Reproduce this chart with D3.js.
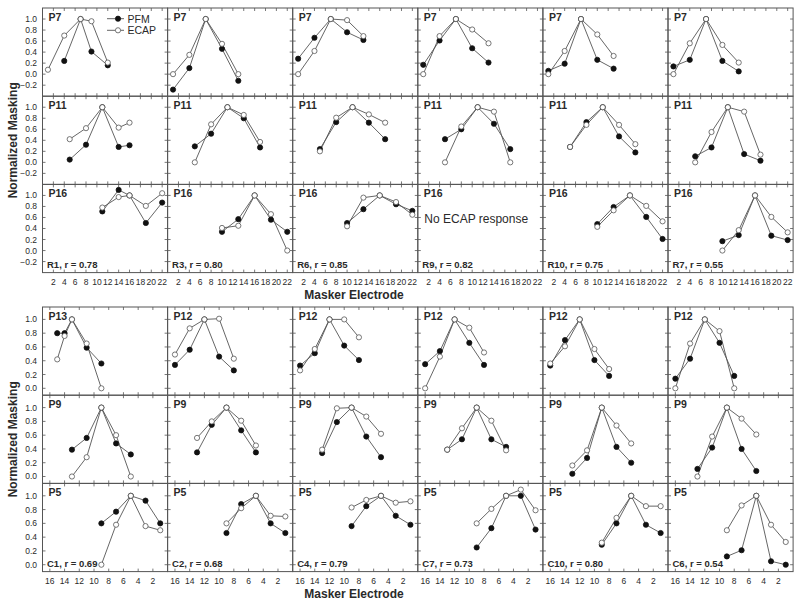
<!doctype html>
<html lang="en">
<head>
<meta charset="UTF-8">
<title>Normalized masking</title>
<script src="https://cdn.jsdelivr.net/npm/d3@7"></script>
<style>
  body { margin: 0; background: #fff; }
  svg { font-family: "Liberation Sans", Arial, sans-serif; }
</style>
</head>
<body>
<div id="container"></div>
<script>
  // ---- data: [electrode, normalized masking] ----
  // top block (R subjects), rows P7, P11, P16, one entry per column
  var topCodes = ["R1", "R3", "R6", "R9", "R10", "R7"];
  var topR = [0.78, 0.80, 0.85, 0.82, 0.75, 0.55];
  var topNames = [
    ["P7", "P7", "P7", "P7", "P7", "P7"],
    ["P11", "P11", "P11", "P11", "P11", "P11"],
    ["P16", "P16", "P16", "P16", "P16", "P16"]
  ];
  var topXTicks = [2, 4, 6, 8, 10, 12, 14, 16, 18, 20, 22];
  var topYTicks = [-0.2, 0, 0.2, 0.4, 0.6, 0.8, 1.0];

  var p7Pfm = [
    [[4, .24], [7, 1], [9, .41], [12, .16]],
    [[1, -.28], [4, .11], [7, 1], [10, .46], [13, -.12]],
    [[1, .28], [4, .66], [7, 1], [10, .76], [13, .62]],
    [[1, .17], [4, .61], [7, 1], [10, .47], [13, .21]],
    [[1, .06], [4, .19], [7, 1], [10, .26], [13, .10]],
    [[1, .14], [4, .26], [7, 1], [10, .24], [13, .05]]
  ];
  var p7Ecap = [
    [[1, .08], [4, .70], [7, 1], [9, .96], [12, .21]],
    [[1, 0], [4, .35], [7, 1], [10, .55], [13, 0]],
    [[1, 0], [4, .42], [7, 1], [10, .98], [13, .69]],
    [[1, 0], [4, .69], [7, 1], [10, .81], [13, .56]],
    [[1, 0], [4, .42], [7, 1], [10, .72], [13, .33]],
    [[1, 0], [4, .56], [7, 1], [10, .53], [13, .21]]
  ];
  var p11Pfm = [
    [[5, .05], [8, .32], [11, 1], [14, .28], [16, .31]],
    [[5, .29], [8, .52], [11, 1], [14, .80], [17, .27]],
    [[5, .24], [8, .73], [11, 1], [14, .72], [17, .42]],
    [[5, .42], [8, .60], [11, 1], [14, .70], [17, .24]],
    [[5, .28], [8, .73], [11, 1], [14, .47], [17, .18]],
    [[5, .11], [8, .27], [11, 1], [14, .15], [17, .03]]
  ];
  var p11Ecap = [
    [[5, .42], [8, .62], [11, 1], [14, .63], [16, .72]],
    [[5, 0], [8, .69], [11, 1], [14, .86], [17, .37]],
    [[5, .20], [8, .81], [11, 1], [14, .87], [17, .72]],
    [[5, 0], [8, .65], [11, 1], [14, .92], [17, 0]],
    [[5, .28], [8, .68], [11, 1], [14, .68], [17, .33]],
    [[5, 0], [8, .55], [11, 1], [14, .92], [17, .14]]
  ];
  var p16Pfm = [
    [[11, .71], [14, 1.10], [16, 1], [19, .50], [22, .87]],
    [[10, .34], [13, .57], [16, 1], [19, .56], [22, .34]],
    [[10, .50], [13, .75], [16, 1], [19, .84], [22, .72]],
    [],
    [[10, .48], [13, .79], [16, 1], [19, .61], [22, .21]],
    [[10, .17], [13, .28], [16, 1], [19, .27], [22, .19]]
  ];
  var p16Ecap = [
    [[11, .78], [14, .97], [16, 1], [19, .81], [22, 1.04]],
    [[10, .41], [13, .45], [16, 1], [19, .66], [22, 0]],
    [[10, .44], [13, .96], [16, 1], [19, .88], [22, .65]],
    [],
    [[10, .43], [13, .73], [16, 1], [19, .81], [22, .53]],
    [[10, 0], [13, .37], [16, 1], [19, .61], [22, .33]]
  ];

  // bottom block (C subjects), rows P12/P13, P9, P5
  var botCodes = ["C1", "C2", "C4", "C7", "C10", "C6"];
  var botR = [0.69, 0.68, 0.79, 0.73, 0.80, 0.54];
  var botNames = [
    ["P13", "P12", "P12", "P12", "P12", "P12"],
    ["P9", "P9", "P9", "P9", "P9", "P9"],
    ["P5", "P5", "P5", "P5", "P5", "P5"]
  ];
  var botXTicks = [16, 14, 12, 10, 8, 6, 4, 2];
  var botYTicks = [0, 0.2, 0.4, 0.6, 0.8, 1.0];

  var p12Pfm = [
    [[15, .80], [14, .80], [13, 1], [11, .59], [9, .36]],
    [[16, .34], [14, .56], [12, 1], [10, .46], [8, .26]],
    [[16, .33], [14, .51], [12, 1], [10, .62], [8, .41]],
    [[16, .35], [14, .54], [12, 1], [10, .66], [8, .34]],
    [[16, .33], [14, .70], [12, 1], [10, .41], [8, .18]],
    [[16, .14], [14, .43], [12, 1], [10, .66], [8, .18]]
  ];
  var p12Ecap = [
    [[15, .42], [14, .76], [13, 1], [11, .65], [9, 0]],
    [[16, .49], [14, .87], [12, 1], [10, 1.01], [8, .43]],
    [[16, .26], [14, .57], [12, 1], [10, 1.0], [8, .74]],
    [[16, 0], [14, .46], [12, 1], [10, .88], [8, .52]],
    [[16, .36], [14, .61], [12, 1], [10, .57], [8, .28]],
    [[16, 0], [14, .65], [12, 1], [10, .83], [8, 0]]
  ];
  var p9Pfm = [
    [[13, .39], [11, .56], [9, 1], [7, .48], [5, .32]],
    [[13, .35], [11, .75], [9, 1], [7, .67], [5, .35]],
    [[13, .34], [11, .79], [9, 1], [7, .58], [5, .28]],
    [[13, .39], [11, .54], [9, 1], [7, .54], [5, .43]],
    [[13, .04], [11, .27], [9, 1], [7, .43], [5, .20]],
    [[13, .11], [11, .42], [9, 1], [7, .40], [5, .08]]
  ];
  var p9Ecap = [
    [[13, 0], [11, .28], [9, 1], [7, .60], [5, 0]],
    [[13, .56], [11, .80], [9, 1], [7, .81], [5, .45]],
    [[13, .39], [11, .99], [9, 1], [7, .87], [5, .62]],
    [[13, .39], [11, .70], [9, 1], [7, .81], [5, .38]],
    [[13, .16], [11, .38], [9, 1], [7, .74], [5, .48]],
    [[13, 0], [11, .58], [9, 1], [7, .84], [5, .61]]
  ];
  var p5Pfm = [
    [[9, .60], [7, .77], [5, 1], [3, .93], [1, .60]],
    [[9, .46], [7, .88], [5, 1], [3, .60], [1, .46]],
    [[9, .56], [7, .85], [5, 1], [3, .71], [1, .58]],
    [[9, .25], [7, .53], [5, 1], [3, 1], [1, .51]],
    [[9, .29], [7, .60], [5, 1], [3, .58], [1, .46]],
    [[9, .12], [7, .21], [5, 1], [3, .05], [1, 0]]
  ];
  var p5Ecap = [
    [[9, 0], [7, .58], [5, 1], [3, .56], [1, .50]],
    [[9, .60], [7, .82], [5, 1], [3, .71], [1, .70]],
    [[9, .83], [7, .94], [5, 1], [3, .90], [1, .92]],
    [[9, .60], [7, .81], [5, 1], [3, 1.09], [1, .79]],
    [[9, .32], [7, .68], [5, 1], [3, .85], [1, .85]],
    [[9, .50], [7, .86], [5, 1], [3, .58], [1, .33]]
  ];

  // ---- layout ----
  var width = 800, height = 605;
  var left = 42.5, colW = 125.1, rowH = 88.2;
  var ink = "#555", textInk = "#2a2a2a";
  var dot = 2.6;

  var groups = [
    { top: 8, xDomain: [0, 23], yDomain: [-0.4, 1.2], xTicks: topXTicks, yTicks: topYTicks,
      names: topNames, codes: topCodes, r: topR,
      pfm: [p7Pfm, p11Pfm, p16Pfm], ecap: [p7Ecap, p11Ecap, p16Ecap] },
    { top: 307, xDomain: [17, 0], yDomain: [-0.1, 1.18], xTicks: botXTicks, yTicks: botYTicks,
      names: botNames, codes: botCodes, r: botR,
      pfm: [p12Pfm, p9Pfm, p5Pfm], ecap: [p12Ecap, p9Ecap, p5Ecap] }
  ];

  var svg = d3.select("#container").append("svg")
    .attr("width", width).attr("height", height);

  groups.forEach(function (grp, gi) {
    var x = d3.scaleLinear().domain(grp.xDomain).range([0, colW]);
    var y = d3.scaleLinear().domain(grp.yDomain).range([rowH, 0]);
    var line = d3.line().x(function (d) { return x(d[0]); }).y(function (d) { return y(d[1]); });

    for (var r = 0; r < 3; r++) {
      for (var c = 0; c < 6; c++) {
        var g = svg.append("g")
          .attr("transform", "translate(" + (left + c * colW) + "," + (grp.top + r * rowH) + ")");

        g.append("rect").attr("width", colW).attr("height", rowH)
          .attr("fill", "none").attr("stroke", ink).attr("stroke-width", 1);

        // inward ticks on all four sides
        var tk = g.append("g").attr("stroke", ink).attr("stroke-width", 0.8);
        grp.yTicks.forEach(function (t) {
          tk.append("line").attr("x1", 0).attr("x2", 3).attr("y1", y(t)).attr("y2", y(t));
          tk.append("line").attr("x1", colW).attr("x2", colW - 3).attr("y1", y(t)).attr("y2", y(t));
        });
        grp.xTicks.forEach(function (t) {
          tk.append("line").attr("x1", x(t)).attr("x2", x(t)).attr("y1", 0).attr("y2", 3);
          tk.append("line").attr("x1", x(t)).attr("x2", x(t)).attr("y1", rowH).attr("y2", rowH - 3);
        });

        if (c === 0) {
          g.append("g").selectAll("text").data(grp.yTicks).join("text")
            .attr("x", -5.5).attr("y", function (d) { return y(d) + 3; })
            .attr("text-anchor", "end").attr("font-size", 8.5).attr("fill", textInk)
            .text(d3.format(".1f"));
        }
        if (r === 2) {
          g.append("g").selectAll("text").data(grp.xTicks).join("text")
            .attr("x", function (d) { return x(d); }).attr("y", rowH + 12.5)
            .attr("text-anchor", "middle").attr("font-size", 8.5).attr("fill", textInk)
            .text(function (d) { return d; });
          g.append("text").attr("x", 4.5).attr("y", rowH - 4.5)
            .attr("font-size", 9.5).attr("font-weight", "bold").attr("fill", textInk)
            .text(grp.codes[c] + ", r = " + grp.r[c].toFixed(2));
        }

        g.append("text").attr("x", 6).attr("y", 13)
          .attr("font-size", 10.5).attr("font-weight", "bold").attr("fill", textInk)
          .text(grp.names[r][c]);

        var pfm = grp.pfm[r][c], ecap = grp.ecap[r][c];
        if (!pfm.length && !ecap.length) {
          g.append("text").attr("x", 6.5).attr("y", 38.5)
            .attr("font-size", 12).attr("fill", textInk).text("No ECAP response");
        }
        [pfm, ecap].forEach(function (series) {
          if (!series.length) return;
          g.append("path").attr("d", line(series))
            .attr("fill", "none").attr("stroke", ink).attr("stroke-width", 0.9);
        });
        [pfm, ecap].forEach(function (series, si) {
          g.append("g").selectAll("circle").data(series).join("circle")
            .attr("cx", function (d) { return x(d[0]); })
            .attr("cy", function (d) { return y(d[1]); })
            .attr("r", dot)
            .attr("fill", si === 0 ? "#111" : "#fff")
            .attr("stroke", si === 0 ? "#111" : ink)
            .attr("stroke-width", 0.8);
        });

        // legend in first panel
        if (gi === 0 && r === 0 && c === 0) {
          var leg = g.append("g").attr("transform", "translate(64.5,10.7)");
          ["PFM", "ECAP"].forEach(function (name, i) {
            var ly = i * 11.6;
            leg.append("line").attr("x1", 0).attr("x2", 17).attr("y1", ly).attr("y2", ly)
              .attr("stroke", ink).attr("stroke-width", 0.9);
            leg.append("circle").attr("cx", 11).attr("cy", ly).attr("r", dot)
              .attr("fill", i === 0 ? "#111" : "#fff").attr("stroke", i === 0 ? "#111" : ink)
              .attr("stroke-width", 0.8);
            leg.append("text").attr("x", 20.5).attr("y", ly + 3.8)
              .attr("font-size", 10.5).attr("fill", textInk).text(name);
          });
        }
      }
    }

    var gTop = grp.top, gBottom = grp.top + 3 * rowH;
    svg.append("text")
      .attr("transform", "translate(17," + ((gTop + gBottom) / 2) + ") rotate(-90)")
      .attr("text-anchor", "middle").attr("font-size", 12).attr("font-weight", "bold")
      .attr("fill", textInk).text("Normalized Masking");
    svg.append("text").attr("x", 354).attr("y", gBottom + 26.5)
      .attr("text-anchor", "middle").attr("font-size", 12).attr("font-weight", "bold")
      .attr("fill", textInk).text("Masker Electrode");
  });
</script>
</body>
</html>
